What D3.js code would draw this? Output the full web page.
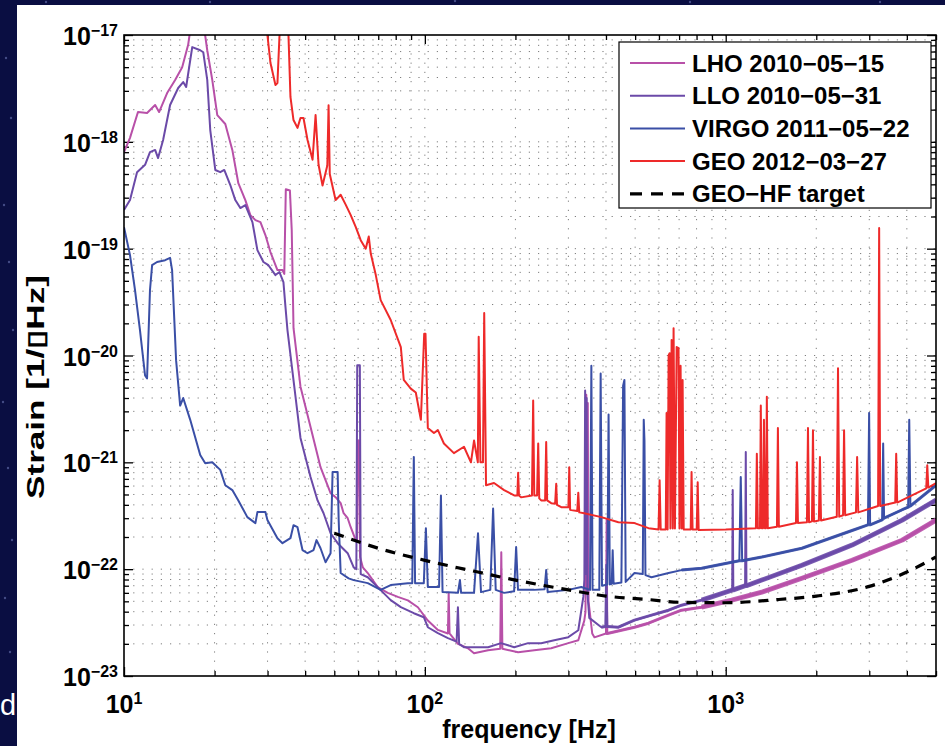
<!DOCTYPE html>
<html><head><meta charset="utf-8">
<script src="https://cdn.jsdelivr.net/npm/d3@7"></script>
<style>body{margin:0;background:#0a0e42;} svg{display:block}</style>
</head><body>
<svg id="c" width="945" height="746"></svg>
<script>
// ---------- DATA (frequency Hz, strain 1/sqrt(Hz)) ----------
const seriesNames = ["LHO 2010\u221205\u221215","LLO 2010\u221205\u221231","VIRGO 2011\u221205\u221222","GEO 2012\u221203\u221227","GEO\u2212HF target"];
const xTickExponents = [1,2,3];
const yTickExponents = [-23,-22,-21,-20,-19,-18,-17];

const lho = [[10,8.0e-19],[10.47,1.09e-18],[11.13,1.9e-18],[11.93,1.86e-18],[12.69,2.21e-18],[13.08,1.9e-18],[13.91,2.86e-18],[14.79,3.79e-18],[15.61,5.0e-18],[16.34,8.1e-18],[16.7,1.25e-17],[18.4,1.25e-17],[18.91,7.2e-18],[19.65,3.8e-18],[20.42,1.78e-18],[21.71,1.47e-18],[22.91,8.4e-19],[23.99,4.1e-19],[25.31,2.85e-19],[26.3,2.06e-19],[27.34,1.85e-19],[28.41,1.77e-19],[29.51,1.34e-19],[30.67,9.3e-20],[32.36,6.3e-20],[33.63,6.3e-20],[34.1,5.8e-20],[34.5,3.6e-19],[35.6,3.5e-19],[36.1,1.5e-19],[36.6,1.8e-20],[38.6,5.1e-21],[41.69,2.14e-21],[45.0,9.0e-22],[48.6,5.15e-22],[50.5,4.72e-22],[52.5,4.15e-22],[53.7,3.34e-22],[55.4,3.0e-22],[56.7,2.47e-22],[58.9,1.87e-22],[59.5,1.8e-22],[59.9,1.6e-21],[60.5,1.6e-21],[60.9,1.3e-22],[62.2,1.04e-22],[64.6,9.2e-23],[69.7,6.8e-23],[75.3,6.0e-23],[81.3,5.5e-23],[87.8,5.1e-23],[94.8,4.4e-23],[102.3,3.3e-23],[110.5,2.7e-23],[119.3,2.5e-23],[120,6.0e-23],[120.8,2.5e-23],[128.8,2.0e-23],[139.1,1.82e-23],[145.7,1.63e-23],[162.2,1.74e-23],[178,1.8e-23],[179.5,1.44e-22],[181,1.8e-23],[204.2,1.67e-23],[230.9,1.74e-23],[263,1.82e-23],[299.8,2.03e-23],[323.6,2.16e-23],[338.8,3.3e-23],[342,4.0e-23],[344,4.3e-21],[346,6.0e-23],[348,3.6e-21],[350,5e-23],[360,2.5e-23],[366,2.3e-23],[400,2.5e-23],[402,2.9e-22],[404,2.5e-23],[450.2,2.68e-23],[497.5,2.86e-23],[553.8,3.12e-23],[645.7,3.71e-23],[713,4.13e-23],[832,4.41e-23],[1047,5.13e-23],[1318,6.09e-23],[1792,8.24e-23],[2630,1.21e-22],[3861,1.87e-22],[5000,2.88e-22]];

const llo = [[10,2.3e-19],[10.47,2.85e-19],[11.05,5.2e-19],[11.75,6.1e-19],[12.2,8.0e-19],[12.69,8.4e-19],[12.98,7.05e-19],[13.49,1.04e-18],[14.23,2.21e-18],[15.14,3.19e-18],[15.73,3.63e-18],[16.09,3.26e-18],[16.6,5.8e-18],[16.86,7.7e-18],[17.92,7.2e-18],[18.34,6.9e-18],[18.91,3.8e-18],[19.35,1.29e-18],[20.11,5.45e-19],[20.89,5.2e-19],[21.54,5.45e-19],[22.56,3.94e-19],[23.44,2.85e-19],[24.36,2.4e-19],[25.31,2.56e-19],[26.72,1.77e-19],[27.76,9.7e-20],[29.07,7.5e-20],[30.2,7.0e-20],[31.87,5.66e-20],[32.86,6.04e-20],[33.88,4.87e-20],[34.41,2.85e-20],[34.94,1.73e-20],[38.6,1.69e-21],[41.69,7.3e-22],[43.99,4.4e-22],[46.06,3.34e-22],[48.6,2.17e-22],[51.3,1.75e-22],[55.4,1.41e-22],[58.0,1.04e-22],[59.2,1.0e-22],[59.6,8.1e-21],[60.8,8.1e-21],[61.2,9.0e-23],[64.6,8.4e-23],[71.3,6.36e-23],[77.0,5.13e-23],[83.2,4.41e-23],[91.9,3.87e-23],[99.2,3.55e-23],[102.3,2.86e-23],[110.5,2.52e-23],[119.3,2.26e-23],[127.5,2.1e-23],[128.8,4.4e-23],[130,2.0e-23],[134.9,1.86e-23],[145.7,1.86e-23],[162.2,1.86e-23],[179.2,2.03e-23],[198.1,1.86e-23],[220.4,2.03e-23],[243.6,2.03e-23],[269.2,2.16e-23],[299.8,2.31e-23],[323.6,2.68e-23],[336.3,5.5e-23],[339,8e-23],[341,4.7e-21],[343,9e-23],[345,4.0e-21],[347,6e-23],[352,3.5e-23],[386.1,2.86e-23],[398,2.9e-23],[401,1.1e-22],[404,2.9e-23],[439.9,2.86e-23],[497.5,3.33e-23],[566.7,3.71e-23],[645.7,4.13e-23],[713,4.6e-23],[832,5.13e-23],[1047,6.36e-23],[1051,6.4e-23],[1055,5.5e-22],[1060,6.4e-23],[1160,7.0e-23],[1166,1.25e-21],[1172,7.0e-23],[1318,7.9e-23],[1792,1.09e-22],[2630,1.68e-22],[3861,2.88e-22],[5000,4.43e-22]];

const virgo = [[10,1.59e-19],[10.47,8.7e-20],[10.88,4.1e-20],[11.3,1.73e-20],[11.75,6.5e-21],[11.93,6.1e-21],[12.2,4.1e-20],[12.4,7.0e-20],[12.88,7.5e-20],[13.7,7.8e-20],[14.23,8.2e-20],[14.45,6.3e-20],[14.9,9.0e-21],[15.37,3.4e-21],[15.73,4.0e-21],[16.6,2.5e-21],[17.92,1.17e-21],[18.62,9.8e-22],[19.65,1.0e-21],[20.89,8.5e-22],[21.71,6.1e-22],[22.91,5.5e-22],[23.99,4.4e-22],[25.7,3.07e-22],[27.34,2.7e-22],[27.76,3.42e-22],[29.51,3.42e-22],[29.97,2.88e-22],[32.36,1.95e-22],[33.63,1.75e-22],[35.75,1.95e-22],[36.59,2.58e-22],[37.73,2.47e-22],[39.2,1.51e-22],[40.74,1.41e-22],[42.66,1.51e-22],[43.65,1.87e-22],[45.0,1.57e-22],[46.77,1.16e-22],[48.6,1.41e-22],[49.35,8.1e-22],[51.3,8.1e-22],[51.7,2.9e-22],[52.5,9.2e-23],[55.8,8.2e-23],[58.0,7.9e-23],[64.6,7.4e-23],[71.3,6.4e-23],[77.0,7.1e-23],[87.8,7.4e-23],[90.8,7.4e-23],[91.9,1.12e-21],[92.8,7.4e-23],[99.2,7.4e-23],[100.8,2.42e-22],[102.3,6.8e-23],[111.5,6.8e-23],[113.1,4.9e-22],[114.5,6.1e-23],[128.8,6.0e-23],[130.8,7.9e-23],[132,6.0e-23],[145.7,6.0e-23],[150.2,2.17e-22],[153.7,6.1e-23],[165,6.4e-23],[168.6,3.7e-22],[172,6.4e-23],[183.4,6.0e-23],[198,6.2e-23],[201.1,1.61e-22],[204,6.4e-23],[230.9,6.4e-23],[250,6.5e-23],[253.1,9.8e-23],[256,6.1e-23],[299.8,6.4e-23],[331.1,6.8e-23],[354,6.4e-23],[357.6,8e-21],[361,6.4e-23],[380,6.4e-23],[384,6.8e-21],[388,7e-23],[404,7.2e-23],[408,2.8e-21],[412,7.2e-23],[418,7.3e-23],[421,1.5e-22],[424,7.3e-23],[450,7.5e-23],[456,5.2e-21],[460.6,5.9e-21],[465,7.6e-23],[497.5,9.2e-23],[530,9.0e-23],[534,2.5e-21],[537,1.6e-21],[541,8.8e-23],[566.7,8.4e-23],[645.7,9.2e-23],[713,9.8e-23],[832,1.02e-22],[1047,1.16e-22],[1110,1.2e-22],[1122,7.3e-22],[1134,1.2e-22],[1318,1.3e-22],[1792,1.57e-22],[2630,2.3e-22],[2970,2.6e-22],[2997,2.9e-21],[3020,2.6e-22],[3310,2.9e-22],[3337,1.5e-21],[3360,3.0e-22],[3861,3.6e-22],[4040,3.8e-22],[4074,2.5e-21],[4110,3.9e-22],[5000,6.1e-22]];

const geo = [[29.5,1.3e-17],[29.97,1.0e-17],[30.67,5.5e-18],[31.87,3.4e-18],[32.36,3.55e-18],[32.86,9.6e-18],[33.1,1.3e-17],[34.9,1.3e-17],[35.21,1.0e-17],[35.75,2.63e-18],[36.59,1.6e-18],[37.73,1.35e-18],[38.6,1.67e-18],[39.5,1.67e-18],[40.74,1.04e-18],[42.34,6.8e-19],[43.33,1.78e-18],[44.33,6.1e-19],[45.7,3.9e-19],[47.4,6.0e-19],[47.86,2.2e-18],[48.3,5e-19],[50.5,2.85e-19],[52.5,3.2e-19],[54.5,2.6e-19],[56.7,2.06e-19],[58.9,1.6e-19],[61.2,1.2e-19],[63.6,1.0e-19],[65.1,1.3e-19],[66.1,9e-20],[68.7,5.66e-20],[71.3,3.3e-20],[77.0,2.15e-20],[83.2,1.2e-20],[85.1,5.9e-21],[89.8,4.9e-21],[93.3,4.5e-21],[97.0,2.5e-21],[99.5,1.6e-20],[100.5,1.6e-20],[102.3,2.1e-21],[107.2,1.88e-21],[110.5,2.0e-21],[115.7,1.5e-21],[124.9,1.22e-21],[134.9,1.4e-21],[142.3,1.0e-21],[145.7,1.6e-21],[150,1.0e-21],[151,1.5e-20],[153,1.0e-21],[156,1.0e-21],[157.5,2.5e-20],[159.7,6.1e-22],[169.8,6.4e-22],[183.4,5.5e-22],[198.1,4.9e-22],[203,4.9e-22],[204.2,8.0e-22],[205.5,4.9e-22],[208.9,4.7e-22],[227,4.9e-22],[229.1,3.8e-21],[231,4.9e-22],[236,4.9e-22],[238.1,1.5e-21],[240,4.6e-22],[243.6,4.4e-22],[251,4.4e-22],[253.1,1.55e-21],[255,4.4e-22],[263,4.15e-22],[271,4.1e-22],[273.3,6.3e-22],[275,4.0e-22],[284.1,3.8e-22],[300,3.8e-22],[302,9.0e-22],[304,3.6e-22],[306.7,3.57e-22],[321,3.5e-22],[323.6,5.2e-22],[326,3.4e-22],[338.8,3.34e-22],[386.1,3.07e-22],[439.9,2.75e-22],[497.5,2.7e-22],[553.8,2.42e-22],[598,2.35e-22],[603,6.8e-22],[608,2.35e-22],[632,2.35e-22],[636,2.9e-21],[641,2.35e-22],[646,1.0e-20],[651,1.05e-20],[655,2.4e-22],[661,1.4e-20],[667,2.4e-22],[671,1.8e-20],[678,2.4e-22],[687,1.2e-20],[697,1.17e-20],[702,2.4e-22],[708,8e-21],[714,2.4e-22],[719,5.9e-21],[725,2.35e-22],[765,2.35e-22],[770,8.1e-22],[776,2.35e-22],[801,2.35e-22],[807,6.5e-22],[813,2.32e-22],[1000,2.35e-22],[1260,2.42e-22],[1269,1.2e-21],[1279,2.42e-22],[1300,2.42e-22],[1308,3.4e-21],[1318,2.42e-22],[1330,2.42e-22],[1340,2.5e-21],[1350,2.42e-22],[1360,2.42e-22],[1370,4.1e-21],[1380,2.42e-22],[1480,2.5e-22],[1491,2.1e-21],[1502,2.5e-22],[1712,2.7e-22],[1725,1.0e-21],[1738,2.7e-22],[1862,2.75e-22],[1877,2.1e-21],[1892,2.75e-22],[1935,2.8e-22],[1950,2.0e-21],[1965,2.8e-22],[2040,2.85e-22],[2057,1.12e-21],[2074,2.85e-22],[2340,3.1e-22],[2362,7.6e-21],[2384,3.1e-22],[2455,3.2e-22],[2474,2.0e-21],[2495,3.2e-22],[2710,3.4e-22],[2734,1.12e-21],[2758,3.4e-22],[3210,3.9e-22],[3236,1.56e-19],[3262,3.9e-22],[3660,4.2e-22],[3687,1.2e-21],[3715,4.2e-22],[3861,4.43e-22],[4640,5.7e-22],[4677,9.4e-22],[4715,5.8e-22],[5000,6.4e-22]];

const geoHF = [[50,2.17e-22],[70,1.57e-22],[100,1.21e-22],[150,9.4e-23],[200,7.9e-23],[300,6.4e-23],[400,5.6e-23],[550,5.2e-23],[700,4.9e-23],[1000,4.85e-23],[1500,5.2e-23],[2000,5.6e-23],[3000,6.9e-23],[4000,9.4e-23],[5000,1.3e-22]];

const seriesColors = ["#b850a8","#6b4aa8","#3a4fa6","#ee2a2a","#000000"];

// ---------- DRAW ----------
const W=945,H=746, L=124,R=936,T=35,B=676;
const FONT="'Liberation Sans', Arial, Helvetica, sans-serif";
const svg=d3.select("#c");
svg.append("rect").attr("width",W).attr("height",H).attr("fill","#0a0e42");
const stars=[[6,58],[11,118],[4,205],[9,262],[13,330],[3,402],[8,468],[12,540],[5,598],[10,652],[46,2],[210,2],[455,1],[690,2],[880,2]];
svg.append("g").selectAll("circle").data(stars).join("circle")
  .attr("cx",d=>d[0]).attr("cy",d=>d[1]).attr("r",1.2).attr("fill","#7580c0").attr("opacity",0.55);
svg.append("text").attr("x",0).attr("y",715).attr("fill","#fff")
  .attr("font-family",FONT).attr("font-size",29).text("d");
svg.append("rect").attr("x",17).attr("y",5).attr("width",W-17).attr("height",H-5).attr("fill","#fff");

const x=d3.scaleLog().domain([10,5000]).range([L,R]);
const y=d3.scaleLog().domain([1e-23,1e-17]).range([B,T]);

const xMajor=xTickExponents.map(e=>Math.pow(10,e));
const xMinor=[];
xMajor.forEach(d=>{for(let m=2;m<=9;m++){const v=d*m; if(v<=5000) xMinor.push(v);}});
const yMajor=yTickExponents.map(e=>Math.pow(10,e));
const yMinor=[];
yMajor.slice(0,-1).forEach(d=>{for(let m=2;m<=9;m++) yMinor.push(d*m);});

// grid
const grid=svg.append("g").attr("stroke","#000").attr("stroke-width",1).attr("stroke-dasharray","1.2,8").attr("opacity",0.5);
xMajor.concat(xMinor).filter(v=>v>10&&v<5000).forEach(v=>{
  grid.append("line").attr("x1",x(v)).attr("x2",x(v)).attr("y1",T).attr("y2",B);
});
yMajor.concat(yMinor).filter(v=>v>1e-23&&v<1e-17).forEach(v=>{
  grid.append("line").attr("y1",y(v)).attr("y2",y(v)).attr("x1",L).attr("x2",R);
});

// axes ticks (inward)
function styleAxis(g){g.select(".domain").remove(); g.selectAll("line").attr("stroke","#000").attr("stroke-width",1.3);}
svg.append("g").attr("transform",`translate(0,${B})`).call(d3.axisBottom(x).tickValues(xMajor).tickSize(-9).tickFormat("")).call(styleAxis);
svg.append("g").attr("transform",`translate(0,${B})`).call(d3.axisBottom(x).tickValues(xMinor).tickSize(-5).tickFormat("")).call(styleAxis);
svg.append("g").attr("transform",`translate(0,${T})`).call(d3.axisTop(x).tickValues(xMajor).tickSize(-9).tickFormat("")).call(styleAxis);
svg.append("g").attr("transform",`translate(0,${T})`).call(d3.axisTop(x).tickValues(xMinor).tickSize(-5).tickFormat("")).call(styleAxis);
svg.append("g").attr("transform",`translate(${L},0)`).call(d3.axisLeft(y).tickValues(yMajor).tickSize(-9).tickFormat("")).call(styleAxis);
svg.append("g").attr("transform",`translate(${L},0)`).call(d3.axisLeft(y).tickValues(yMinor).tickSize(-5).tickFormat("")).call(styleAxis);
svg.append("g").attr("transform",`translate(${R},0)`).call(d3.axisRight(y).tickValues(yMajor).tickSize(-9).tickFormat("")).call(styleAxis);
svg.append("g").attr("transform",`translate(${R},0)`).call(d3.axisRight(y).tickValues(yMinor).tickSize(-5).tickFormat("")).call(styleAxis);

// data lines
svg.append("clipPath").attr("id","clip").append("rect").attr("x",L).attr("y",T).attr("width",R-L).attr("height",B-T);
const line=d3.line().x(d=>x(d[0])).y(d=>y(d[1]));
const plot=svg.append("g").attr("clip-path","url(#clip)");
// noisy high-frequency part drawn as progressively thicker band (spike points skipped)
const bands=[[[380,3],[800,4.8]],[[380,3],[800,4.8]],[[700,3]],[]];
const isSpike=(s,j)=>j>0&&j<s.length-1&&s[j][1]>1.6*s[j-1][1]&&s[j][1]>1.6*s[j+1][1];
[lho,llo,virgo,geo].forEach((s,i)=>{
  plot.append("path").datum(s).attr("d",line).attr("fill","none").attr("stroke",seriesColors[i])
    .attr("stroke-width",2).attr("stroke-linejoin","round");
  bands[i].forEach(([from,w])=>{
    const hi=s.filter((d,j)=>d[0]>=from&&!isSpike(s,j));
    if(hi.length>1) plot.append("path").datum(hi).attr("d",line).attr("fill","none").attr("stroke",seriesColors[i])
      .attr("stroke-width",w).attr("stroke-linejoin","round").attr("opacity",0.9);
  });
});
plot.append("path").datum(geoHF).attr("d",d3.line().curve(d3.curveMonotoneX).x(d=>x(d[0])).y(d=>y(d[1])))
  .attr("fill","none").attr("stroke","#000").attr("stroke-width",3.2).attr("stroke-dasharray","10,8");

// frame
svg.append("rect").attr("x",L).attr("y",T).attr("width",R-L).attr("height",B-T).attr("fill","none").attr("stroke","#000").attr("stroke-width",1.6);

// tick labels
const lab=svg.append("g").attr("font-family",FONT).attr("font-weight","bold").attr("fill","#000");
yTickExponents.forEach(e=>{
  const t=lab.append("text").attr("x",118).attr("y",y(Math.pow(10,e))+10).attr("text-anchor","end").attr("font-size",25);
  t.append("tspan").text("10");
  t.append("tspan").attr("dy",-9).attr("font-size",16).text(String(e).replace("-","\u2212"));
});
xTickExponents.forEach(e=>{
  const t=lab.append("text").attr("x",x(Math.pow(10,e))).attr("y",713).attr("text-anchor","middle").attr("font-size",25);
  t.append("tspan").text("10");
  t.append("tspan").attr("dy",-9).attr("font-size",16).text(String(e));
});
lab.append("text").attr("x",529).attr("y",738).attr("text-anchor","middle").attr("font-size",25).text("frequency [Hz]");
lab.append("text").attr("transform","translate(44,387) rotate(-90)").attr("text-anchor","middle").attr("font-size",24)
  .attr("textLength",224).attr("lengthAdjust","spacingAndGlyphs").text("Strain [1/\u25AFHz]");

// legend
const lg=svg.append("g");
lg.append("rect").attr("x",619).attr("y",42).attr("width",312).attr("height",166).attr("fill","#fff").attr("stroke","#000").attr("stroke-width",1.2);
seriesNames.forEach((n,i)=>{
  const cy=63+i*32.7;
  const ln=lg.append("line").attr("x1",630).attr("x2",685).attr("y1",cy).attr("y2",cy).attr("stroke",seriesColors[i]).attr("stroke-width",i==4?3.2:2);
  if(i==4) ln.attr("stroke-dasharray","12,9");
  lg.append("text").attr("x",692).attr("y",cy+8.5).attr("font-family",FONT).attr("font-weight","bold").attr("font-size",24).text(n);
});
</script>
</body></html>
